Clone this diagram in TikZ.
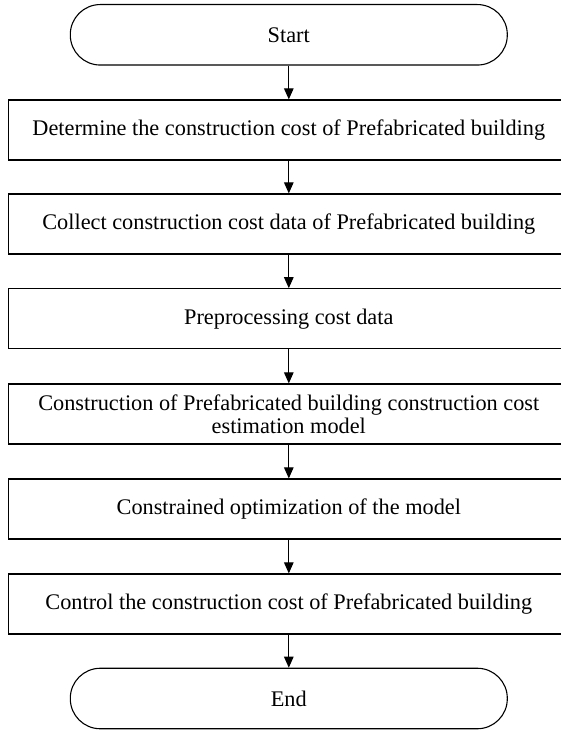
\documentclass[tikz,border=0pt]{standalone}
\usepackage{fontspec}
\setmainfont{Liberation Serif}
\usetikzlibrary{arrows.meta}
\begin{document}
\begin{tikzpicture}[x=1pt,y=-1pt,
  every node/.style={font=\fontsize{22.3}{23}\selectfont},
  term/.style={draw, line width=1.1pt, rectangle, rounded corners=30pt,
    minimum width=437pt, minimum height=60.5pt, inner sep=0pt},
  stepbox/.style={draw, line width=1.2pt, rectangle, minimum width=560pt,
    minimum height=60pt, inner sep=0pt, align=center},
  arr/.style={line width=1.1pt, -{Triangle[length=11pt,width=9.5pt]}}]
\useasboundingbox (0,0) rectangle (560,730);
\node[term] (start) at (288.8,34.8) {Start};
\node[stepbox] (b1) at (288.8,130) {Determine the construction cost of Prefabricated building};
\node[stepbox] (b2) at (288.8,224) {Collect construction cost data of Prefabricated building};
\node[stepbox] (b3) at (288.8,318.8) {Preprocessing cost data};
\node[stepbox] (b4) at (288.8,414) {Construction of Prefabricated building construction cost\\estimation model};
\node[stepbox] (b5) at (288.8,509) {Constrained optimization of the model};
\node[stepbox] (b6) at (288.8,604) {Control the construction cost of Prefabricated building};
\node[term] (end) at (288.8,698.5) {End};
\draw[arr] (start) -- (b1);
\draw[arr] (b1) -- (b2);
\draw[arr] (b2) -- (b3);
\draw[arr] (b3) -- (b4);
\draw[arr] (b4) -- (b5);
\draw[arr] (b5) -- (b6);
\draw[arr] (b6) -- (end);
\end{tikzpicture}
\end{document}
